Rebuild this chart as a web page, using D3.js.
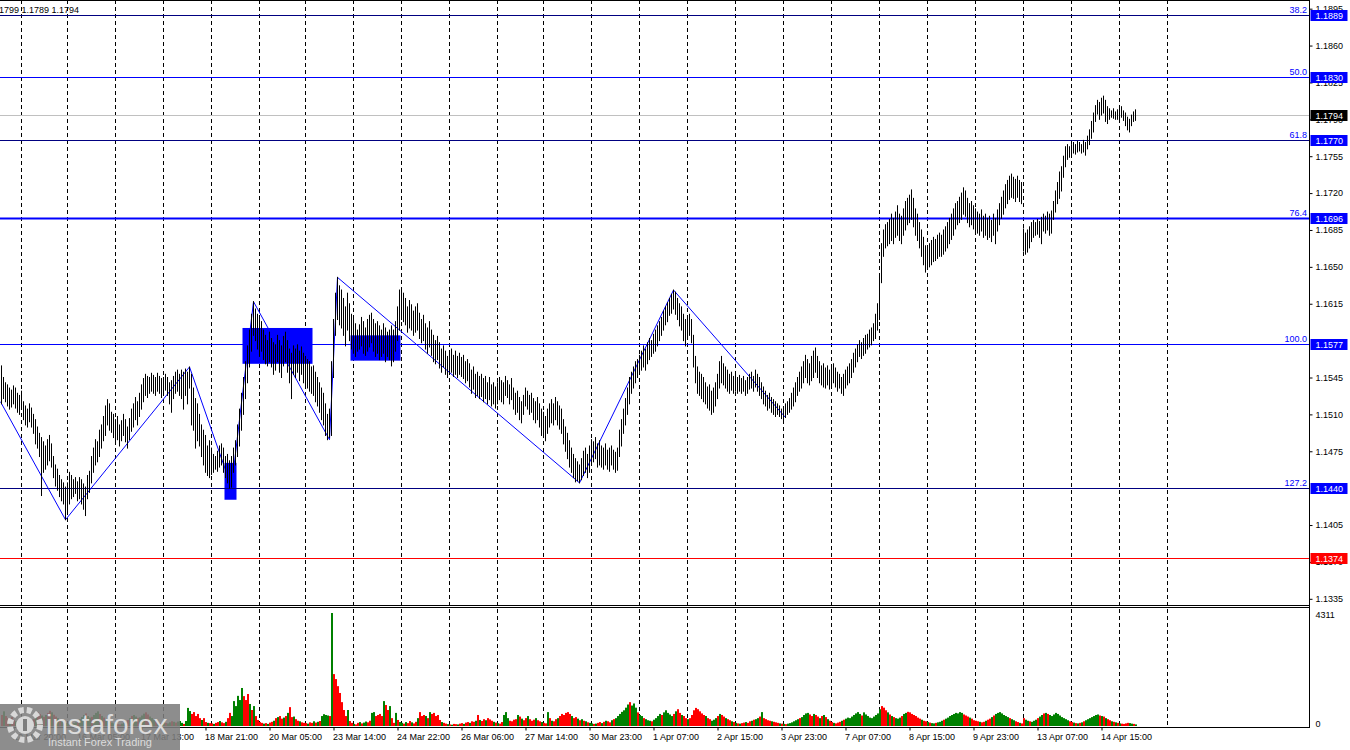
<!DOCTYPE html>
<html>
<head>
<meta charset="utf-8">
<script src="https://cdn.jsdelivr.net/npm/d3@7"></script>
<style>
body { margin: 0; background: #fff; }
svg { display: block; font-family: "Liberation Sans", Arial, sans-serif; }
</style>
</head>
<body>
<div id="chart"></div>
<script>
// EURUSD H1 bars, high / low written as pips above 1.1000 (556 -> 1.1556)
var barHigh = [
    556,545,540,538,535,533,537,535,530,528,
    // 13 Mar
    532,522,518,515,520,516,510,505,498,492,488,484,480,486,490,482,470,462,458,452,448,445,441,
    // 16 Mar
    445,455,452,448,450,446,450,448,444,441,452,456,470,478,486,484,495,500,508,518,524,520,512,510,
    // 17 Mar
    505,508,500,504,510,505,498,506,515,520,526,522,530,538,544,548,546,545,549,547,545,549,546,544,
    // 18 Mar
    545,548,545,540,542,546,550,552,548,552,550,553,550,555,548,535,525,520,510,500,495,490,480,485,
    // 19 Mar
    478,472,470,475,480,482,478,470,472,466,470,478,485,500,515,530,545,560,575,590,605,617,610,605,
    // 20 Mar
    600,598,590,585,580,588,582,578,576,585,580,575,584,588,580,572,568,575,572,576,570,574,568,
    // 23 Mar
    565,562,560,555,556,550,545,540,535,530,520,510,515,560,600,625,640,632,628,620,612,625,615,605,
    // 24 Mar
    600,596,590,595,602,598,592,600,604,606,600,596,598,594,590,596,592,588,590,594,590,598,612,628,
    // 25 Mar
    630,625,620,612,618,614,608,612,615,606,600,604,596,592,598,590,585,580,584,578,572,575,570,565,
    // 26 Mar
    568,572,566,570,565,568,564,566,560,562,558,552,555,548,550,546,548,544,546,540,545,538,540,536,
    // 27 Mar
    540,545,542,540,546,542,538,544,535,530,532,526,522,528,535,532,528,530,525,522,526,520,515,
    // 30 Mar
    512,508,515,520,524,520,526,522,518,515,505,498,492,485,478,472,468,465,462,468,475,478,472,480,
    // 31 Mar
    486,484,488,482,485,480,478,482,476,478,480,476,474,478,495,505,515,525,535,545,550,555,560,562,
    // 1 Apr
    566,570,575,572,578,582,580,586,590,594,598,602,608,612,616,620,624,628,626,620,615,612,605,600,
    // 2 Apr
    602,605,600,585,565,555,550,548,545,540,536,538,532,535,540,548,560,565,558,555,552,548,550,546,
    // 3 Apr
    548,545,547,544,546,542,545,548,550,546,552,548,545,540,536,532,528,530,526,524,522,520,518,515,
    // 6 Apr
    516,520,522,525,530,535,540,545,550,555,560,566,562,558,565,570,573,565,560,556,558,554,556,552,
    // 7 Apr
    555,558,554,550,548,545,548,552,555,558,562,568,572,576,580,578,582,585,586,590,592,596,605,615,
    // 8 Apr
    640,672,685,690,692,695,700,696,702,708,700,698,705,712,715,718,723,715,705,700,692,685,678,670,
    // 9 Apr
    668,672,675,678,676,680,682,680,685,688,692,696,700,705,710,712,716,720,725,722,715,710,712,708,
    // 10 Apr
    705,702,700,704,698,700,696,698,694,700,696,704,710,716,722,728,732,736,738,735,733,736,732,730,
    // 13 Apr
    686,682,685,688,692,694,692,695,693,697,700,698,702,700,703,712,722,730,740,745,755,764,766,764,
    // 14 Apr
    766,768,766,769,768,766,770,768,774,780,788,796,803,808,806,810,812,808,802,800,798,800,797,799,
    // 15 Apr
    800,802,798,796,792,790,794,797,799
];

var barLow = [
    520,525,522,518,515,517,520,516,512,510,
    515,505,500,498,503,498,492,482,478,470,433,455,458,462,466,460,450,442,438,432,428,425,410,
    415,425,430,432,435,428,430,425,420,414,430,436,445,455,462,465,470,478,485,490,500,495,493,488,
    484,486,480,485,490,484,478,486,494,498,505,500,508,515,522,528,526,530,532,530,528,532,530,526,
    530,533,528,520,512,525,530,532,528,525,515,528,520,535,500,495,478,485,480,470,462,455,452,450,
    453,455,458,456,460,462,455,450,445,440,441,455,462,470,480,495,510,525,540,555,570,585,580,572,
    565,570,562,558,556,560,555,548,552,560,550,545,556,560,550,540,525,548,545,550,542,548,540,
    538,535,532,530,528,522,518,512,505,500,490,486,488,490,545,585,600,595,592,585,575,590,580,572,
    568,565,570,572,575,568,566,570,574,578,570,565,568,562,565,568,560,565,562,556,560,570,580,590,
    600,598,595,588,592,590,585,588,590,582,578,580,572,568,574,566,560,558,562,554,550,555,548,545,
    548,550,546,548,545,548,546,544,540,542,536,530,534,526,528,525,527,522,525,520,524,518,520,516,
    520,524,522,520,528,526,520,524,515,510,512,505,502,510,518,515,510,512,505,502,505,498,490,
    488,485,492,498,502,500,505,500,496,492,482,475,468,460,455,450,446,447,445,448,452,455,450,455,
    462,465,468,460,462,460,458,462,458,456,462,458,455,457,470,480,492,500,510,520,530,535,540,545,
    548,552,555,552,558,562,565,568,570,575,580,585,590,595,598,604,606,610,605,600,594,590,580,575,
    582,585,578,555,540,530,528,525,522,520,516,514,510,512,518,525,535,540,538,535,532,530,533,530,
    532,530,532,530,532,528,530,534,535,532,536,532,528,525,520,518,514,516,512,510,508,510,508,506,
    505,507,510,512,515,518,522,528,532,535,540,545,540,538,542,545,550,545,540,538,536,535,538,534,
    537,540,536,532,535,530,528,535,538,540,545,550,555,560,565,563,566,568,572,574,576,580,582,590,
    600,635,660,668,670,672,675,672,678,680,675,672,680,685,690,692,695,688,680,675,668,660,652,645,
    648,650,652,655,656,658,660,660,662,665,668,672,676,680,686,690,692,695,700,698,692,688,690,686,
    684,682,680,684,678,680,676,678,674,680,672,684,690,696,700,706,710,714,716,715,712,716,712,710,
    665,662,664,668,674,678,680,681,678,672,684,682,685,680,682,695,702,710,715,722,735,745,752,754,
    756,758,757,759,760,758,759,756,762,766,772,778,788,795,790,794,796,788,786,790,792,791,790,790,
    790,792,789,784,780,778,784,788,789
];

// tick volumes per bar
var volumes = [
    420,560,380,300,260,340,220,180,150,120,
    100,90,80,120,160,200,260,380,520,460,400,350,420,500,580,520,430,360,300,240,180,140,110,
    90,70,80,110,140,180,260,340,420,480,380,320,350,420,500,560,460,380,320,260,200,160,130,100,
    80,70,60,90,120,160,230,300,380,420,360,310,330,400,470,520,440,360,300,240,190,150,120,90,
    150,120,100,140,180,160,130,170,190,120,80,190,690,570,460,530,380,460,300,230,300,150,120,110,
    100,80,120,150,190,140,110,160,300,500,380,950,760,1150,990,1450,1140,990,1220,840,610,760,380,230,
    150,120,90,110,80,130,160,200,300,340,380,280,320,380,500,720,340,360,260,200,180,140,120,
    110,90,140,120,180,130,160,190,380,450,420,400,380,4311,1980,1790,1520,1260,910,610,380,610,190,120,
    80,60,120,150,100,130,170,140,200,500,530,380,420,460,380,950,800,610,760,300,120,500,230,150,
    120,90,150,110,190,140,100,160,300,530,380,420,380,300,530,460,500,380,420,230,150,120,90,70,
    60,50,80,70,60,90,110,80,130,150,120,180,160,200,420,230,190,260,220,300,250,200,160,130,
    110,90,150,420,530,300,200,180,240,260,420,360,280,220,300,380,260,200,240,300,220,180,150,
    120,100,530,300,200,180,260,300,380,460,420,500,530,460,380,300,340,280,220,260,200,180,140,120,
    100,80,90,120,150,110,160,200,180,140,220,260,300,380,460,540,600,700,820,910,780,860,700,520,
    420,380,300,260,220,200,180,240,300,380,460,420,520,600,500,440,380,460,560,640,500,420,380,300,
    260,300,420,600,690,640,560,480,420,380,300,260,200,240,300,380,460,420,360,300,260,220,180,150,
    120,100,90,110,130,150,120,180,200,240,260,300,360,530,300,260,220,200,180,160,140,120,100,90,
    80,70,90,110,140,180,220,260,300,340,420,480,500,440,380,460,420,360,300,380,420,340,260,200,
    150,120,100,130,160,200,240,280,320,300,360,420,480,530,460,400,520,440,380,320,300,360,420,480,
    640,760,700,600,520,440,380,340,300,280,320,380,460,500,540,520,460,420,380,320,280,240,200,180,
    150,130,110,100,120,140,160,200,240,280,320,380,420,460,500,480,530,500,440,400,360,320,280,220,
    200,180,160,140,160,200,240,280,340,400,460,500,530,480,420,380,340,300,260,220,180,150,120,100,
    300,240,200,180,160,200,240,300,360,420,480,500,460,420,380,440,500,460,400,340,300,260,220,180,
    150,130,110,100,120,140,180,220,260,300,340,380,420,440,400,380,360,300,260,220,180,160,140,120,
    100,90,80,100,120,110,90,80,60
];

// g = bullish bar (green volume), r = bearish bar (red volume), one string per day
var volDir = [
    "rgrrgrrgrg",
    "rrgrgrrgrrgrgrrgrrgrgrg",
    "grgggrgggrggrgggrgrggrgg",
    "grrgggrgrggrgggrrgggrgrg",
    "grggrgrgggrgggrrrrrgrrgr",
    "rgrrgrrgrrggggggrrrgrgrr",
    "rrgrgrrgrgrrgrgrrgrrgrr",
    "rgrrgrgrggggrgrrrrrrrgrr",
    "grrgrggrrggrrrrgrrgrrgrg",
    "grgrrgrrgrrrgrgrrrrrgrrg",
    "rgrrgrrgrrgrrgrgrrgrrrgr",
    "grrgggrrrrgrgrrgrrrgrrg",
    "rrgrgrrgrrrrrrgrrgrgrgrg",
    "grgrrgrgrrgrgggggggrgggr",
    "ggrgggrggggrgggggrgrrgrr",
    "grrrrrrrrgrrgggrgrrgrrgr",
    "grgrrgrrgrggrgrrrrgrrrgr",
    "grggggggrggggrrgrrgrgrgr",
    "rgrrrgrggggggggrgggggggg",
    "grrrgrgrgggrggrrrrrrrgrr",
    "grggrgggrgggggggggrrrgrr",
    "rrgrrgrrgrgggggggrggrrgr",
    "rggrgggrggrgrggggggggggr",
    "rgrgrgrgggggggrgrgrrgrgr",
    "grrrrggrg"
].join("");

// first bar of each trading day (period separators)
var dayStarts = [10, 33, 57, 81, 105, 129, 152, 176, 200, 224, 248, 271, 295, 319, 343,
    367, 391, 415, 439, 463, 487, 511, 535, 559, 583];

var timeLabelIdx = [6, 38, 70, 102, 134, 166, 198, 230, 262, 294, 326, 358, 390, 422, 454, 486, 518, 550];
var timeLabels = ["12 Mar 20:00", "16 Mar 05:00", "17 Mar 13:00", "18 Mar 21:00", "20 Mar 05:00",
    "23 Mar 14:00", "24 Mar 22:00", "26 Mar 06:00", "27 Mar 14:00", "30 Mar 23:00", "1 Apr 07:00",
    "2 Apr 15:00", "3 Apr 23:00", "7 Apr 07:00", "8 Apr 15:00", "9 Apr 23:00", "13 Apr 07:00", "14 Apr 15:00"];

// scale ticks that are not fully covered by a price tag
var priceTicks = [1.1895, 1.1860, 1.1825, 1.1790, 1.1755, 1.1720, 1.1685, 1.1650, 1.1615,
    1.1545, 1.1510, 1.1475, 1.1405, 1.1370, 1.1335];

// fibonacci levels
var fibPrices = [1.1889, 1.1830, 1.1770, 1.1696, 1.1577, 1.1440];
var fibTags = ["38.2", "50.0", "61.8", "76.4", "100.0", "127.2"];
var fibWidths = [1, 1, 1, 2, 1, 1];
var fibColors = ["#000080", "#0000ff", "#000080", "#0000ff", "#0000ff", "#000080"];

var supportPrice = 1.1374;
var bidPrice = 1.1794;

// zigzag vertices: [bar index, price]
var zigzag = [[-0.5, 1.1522], [32, 1.1410], [94, 1.1555], [115, 1.1441], [126, 1.1617],
    [164, 1.1486], [168, 1.1640], [289, 1.1445], [336, 1.1628], [392, 1.1507]];

// blue zones: [from bar, to bar, top price, bottom price]
var zones = [[121, 156, 1.1592, 1.1558], [175, 200, 1.1585, 1.1561], [112, 118, 1.1464, 1.1429]];

var volMax = 4311;

// ---------------------------------------------------------------
var width = 1350, height = 750;
var axisX = 1309.5;

var svg = d3.select("#chart").append("svg")
    .attr("width", width)
    .attr("height", height);

svg.append("rect").attr("width", width).attr("height", height).attr("fill", "#fff");

var x = d3.scaleLinear().domain([0, 567]).range([1, 1135]);
var y = d3.scaleLinear().domain([1.1374, 1.1889]).range([557.7, 15]);
var yVol = d3.scaleLinear().domain([0, volMax]).range([726, 613]);

function pips(p) { return 1.1 + p / 10000; }

svg.append("clipPath").attr("id", "mainClip")
    .append("rect").attr("x", 0).attr("y", 0).attr("width", axisX).attr("height", 605);

// period separators
svg.append("g").selectAll("line").data(dayStarts).enter().append("line")
    .attr("x1", function (d) { return x(d) + 0.5; })
    .attr("x2", function (d) { return x(d) + 0.5; })
    .attr("y1", 0)
    .attr("y2", 727)
    .attr("stroke", "#000")
    .attr("stroke-dasharray", "4,3");

// volume bars
svg.append("g").selectAll("rect").data(volumes).enter().append("rect")
    .attr("x", function (d, i) { return x(i); })
    .attr("y", function (d) { return yVol(d); })
    .attr("width", 2)
    .attr("height", function (d) { return yVol(0) - yVol(d); })
    .attr("fill", function (d, i) { return volDir[i] === "g" ? "#008000" : "#ff0000"; });

var main = svg.append("g").attr("clip-path", "url(#mainClip)");

// zones
main.selectAll(".zone").data(zones).enter().append("rect")
    .attr("class", "zone")
    .attr("x", function (d) { return x(d[0]) - 0.5; })
    .attr("y", function (d) { return y(d[2]); })
    .attr("width", function (d) { return x(d[1]) - x(d[0]); })
    .attr("height", function (d) { return y(d[3]) - y(d[2]); })
    .attr("fill", "#0000ff");

// horizontal levels
main.selectAll(".fib").data(fibPrices).enter().append("line")
    .attr("class", "fib")
    .attr("x1", 0).attr("x2", axisX)
    .attr("y1", function (d) { return Math.round(y(d)) + 0.5; })
    .attr("y2", function (d) { return Math.round(y(d)) + 0.5; })
    .attr("stroke", function (d, i) { return fibColors[i]; })
    .attr("stroke-width", function (d, i) { return fibWidths[i]; });

main.append("line")
    .attr("x1", 0).attr("x2", axisX)
    .attr("y1", Math.round(y(supportPrice)) + 0.5).attr("y2", Math.round(y(supportPrice)) + 0.5)
    .attr("stroke", "#ff0000");

main.append("line")
    .attr("x1", 0).attr("x2", axisX)
    .attr("y1", Math.round(y(bidPrice)) + 0.5).attr("y2", Math.round(y(bidPrice)) + 0.5)
    .attr("stroke", "#c0c0c0");

// zigzag
var zz = d3.line()
    .x(function (d) { return x(d[0]) + 0.5; })
    .y(function (d) { return y(d[1]); });
main.append("path").datum(zigzag)
    .attr("d", zz)
    .attr("fill", "none")
    .attr("stroke", "#0000ff")
    .attr("stroke-width", 1);

// price bars
main.append("g").selectAll("line").data(barHigh).enter().append("line")
    .attr("x1", function (d, i) { return x(i) + 0.5; })
    .attr("x2", function (d, i) { return x(i) + 0.5; })
    .attr("y1", function (d) { return y(pips(d)) - 0.5; })
    .attr("y2", function (d, i) { return y(pips(barLow[i])) + 0.5; })
    .attr("stroke", "#000")
    .attr("stroke-width", 1);

// fib tags
main.selectAll(".fibTag").data(fibPrices).enter().append("text")
    .attr("class", "fibTag")
    .attr("x", 1307)
    .attr("y", function (d) { return Math.round(y(d)) - 2; })
    .attr("text-anchor", "end")
    .attr("font-size", 9)
    .attr("fill", "#0000ff")
    .text(function (d, i) { return fibTags[i]; });

// frame lines
svg.append("line").attr("x1", 0).attr("x2", axisX).attr("y1", 0.5).attr("y2", 0.5).attr("stroke", "#000");
svg.append("line").attr("x1", 0).attr("x2", axisX).attr("y1", 605.5).attr("y2", 605.5).attr("stroke", "#000");
svg.append("line").attr("x1", 0).attr("x2", axisX).attr("y1", 607.5).attr("y2", 607.5).attr("stroke", "#000");
svg.append("line").attr("x1", axisX).attr("x2", axisX).attr("y1", 0).attr("y2", 728).attr("stroke", "#000");

// price axis
var yAxis = d3.axisRight(y).tickValues(priceTicks).tickFormat(d3.format(".4f")).tickSize(3).tickPadding(3);
var gy = svg.append("g").attr("transform", "translate(" + axisX + ",0)").call(yAxis);
gy.select(".domain").remove();
gy.selectAll("text").attr("font-size", 9).attr("font-family", "Liberation Sans, Arial, sans-serif").attr("fill", "#000");

// price tags on the axis
var tags = fibPrices.map(function (p) { return {p: p, bg: "#0000ff"}; })
    .concat([{p: bidPrice, bg: "#000"}, {p: supportPrice, bg: "#ff0000"}]);
var tg = svg.append("g").selectAll("g").data(tags).enter().append("g")
    .attr("transform", function (d) { return "translate(" + (axisX + 1) + "," + Math.round(y(d.p)) + ")"; });
tg.append("rect").attr("x", 0).attr("y", -5).attr("width", 37).attr("height", 11)
    .attr("fill", function (d) { return d.bg; });
tg.append("text").attr("x", 5).attr("y", 4).attr("font-size", 9).attr("fill", "#fff")
    .text(function (d) { return d.p.toFixed(4); });

// volume axis
var vAxis = d3.axisRight(yVol).tickValues([0, volMax]).tickFormat(d3.format("d")).tickSize(0).tickPadding(6);
var gv = svg.append("g").attr("transform", "translate(" + axisX + ",0)").call(vAxis);
gv.select(".domain").remove();
gv.selectAll("text").attr("font-size", 9).attr("font-family", "Liberation Sans, Arial, sans-serif").attr("fill", "#000")
    .attr("dy", function (d) { return d === 0 ? "0" : "0.45em"; });

// time axis
var xAxis = d3.axisBottom(x).tickValues(timeLabelIdx)
    .tickFormat(function (d, i) { return timeLabels[i]; })
    .tickSize(3).tickPadding(3);
var gx = svg.append("g").attr("transform", "translate(0.5,727.5)").call(xAxis);
gx.select(".domain").attr("d", "M-0.5,0H" + (axisX - 0.5)).attr("stroke", "#000");
gx.selectAll("text").attr("font-size", 9).attr("text-anchor", "start").attr("x", -1)
    .attr("font-family", "Liberation Sans, Arial, sans-serif").attr("fill", "#000");

// header
svg.append("text").attr("x", -1).attr("y", 13).attr("font-size", 9).attr("fill", "#000")
    .text("1799 1.1789 1.1794");

// watermark
var wm = svg.append("g");
wm.append("rect").attr("x", 0).attr("y", 704).attr("width", 180).attr("height", 46)
    .attr("fill", "#7d7d7d").attr("opacity", 0.88);
wm.append("circle").attr("cx", 25).attr("cy", 725).attr("r", 15)
    .attr("fill", "none").attr("stroke", "#d8d8d8").attr("stroke-width", 6).attr("stroke-dasharray", "5,3");
wm.append("circle").attr("cx", 25).attr("cy", 725).attr("r", 9).attr("fill", "#d8d8d8");
wm.append("rect").attr("x", 23).attr("y", 719).attr("width", 4).attr("height", 12).attr("fill", "#7d7d7d");
wm.append("text").attr("x", 46).attr("y", 734).attr("font-size", 28)
    .attr("font-family", "Liberation Sans, Arial, sans-serif")
    .attr("fill", "#dcdcdc").text("instaforex");
wm.append("text").attr("x", 48).attr("y", 746).attr("font-size", 11)
    .attr("font-family", "Liberation Sans, Arial, sans-serif")
    .attr("fill", "#dcdcdc").text("Instant Forex Trading");
</script>
</body>
</html>
